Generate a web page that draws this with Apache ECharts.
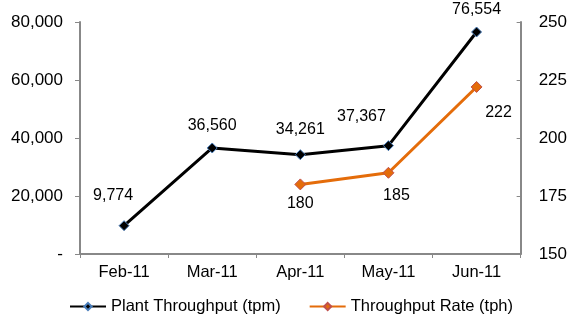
<!DOCTYPE html>
<html><head><meta charset="utf-8">
<script src="https://cdn.jsdelivr.net/npm/echarts@6/dist/echarts.min.js"></script>
<style>html,body{margin:0;padding:0;background:#fff}#c{width:570px;height:318px}</style>
</head><body><div id="c"></div>
<script>
var categories = ['Feb-11', 'Mar-11', 'Apr-11', 'May-11', 'Jun-11'];
var plantThroughput = [9774, 36560, 34261, 37367, 76554];
var throughputRate = [null, null, 180, 185, 222];
var leftTicks = [0, 20000, 40000, 60000, 80000];
var rightTicks = [150, 175, 200, 225, 250];

var font = 'Liberation Sans, Arial, sans-serif';
var chart = echarts.init(document.getElementById('c'));
function fmt(v){ return v === 0 ? '-' : v.toLocaleString('en-US'); }

var blackOffsets = [[-11,-8],[0,0],[0,-3],[-27,-7],[0,0]];
var orangeOffsets = [[0,0],[0,0],[0,-4],[8,0],[22,3]];

chart.setOption({
  animation: false,
  grid: { left: 80, right: 48, top: 22, bottom: 64 },
  legend: {
    bottom: -2, left: 64, itemGap: 28, itemWidth: 36, itemHeight: 9,
    textStyle: { fontFamily: font, fontSize: 16.5, color: '#000' },
    data: ['Plant Throughput (tpm)', 'Throughput Rate (tph)']
  },
  xAxis: {
    type: 'category', data: categories, boundaryGap: true,
    axisLine: { lineStyle: { color: '#888', width: 2 } },
    axisTick: { show: true, inside: false, length: 4, lineStyle: { color: '#888' } },
    axisLabel: { fontFamily: font, fontSize: 16.5, color: '#000', margin: 10 }
  },
  yAxis: [{
    type: 'value', min: leftTicks[0], max: leftTicks[leftTicks.length-1], interval: leftTicks[1]-leftTicks[0],
    splitLine: { show: false },
    axisLine: { show: true, lineStyle: { color: '#888', width: 2 } },
    axisTick: { show: true, length: 5, lineStyle: { color: '#888' } },
    axisLabel: { fontFamily: font, fontSize: 17, color: '#000', margin: 17, formatter: fmt }
  }, {
    type: 'value', min: rightTicks[0], max: rightTicks[rightTicks.length-1], interval: rightTicks[1]-rightTicks[0],
    splitLine: { show: false },
    axisLine: { show: true, lineStyle: { color: '#888', width: 2 } },
    axisTick: { show: true, inside: true, length: 4, lineStyle: { color: '#888' } },
    axisLabel: { fontFamily: font, fontSize: 17, color: '#000', margin: 18 }
  }],
  series: [{
    name: 'Plant Throughput (tpm)', type: 'line', yAxisIndex: 0,
    data: plantThroughput.map(function(v,i){ return { value: v, label: { offset: blackOffsets[i] } }; }),
    lineStyle: { color: '#000', width: 3 },
    itemStyle: { color: '#000', borderColor: '#4a7ebb', borderWidth: 1 },
    symbol: 'diamond', symbolSize: 10,
    label: { show: true, position: 'top', distance: 9, fontFamily: font, fontSize: 16, color: '#000',
      formatter: function(p){ return fmt(p.value); } }
  }, {
    name: 'Throughput Rate (tph)', type: 'line', yAxisIndex: 1,
    data: throughputRate.map(function(v,i){ return { value: v, label: { offset: orangeOffsets[i] } }; }),
    lineStyle: { color: '#E46C0A', width: 3 },
    itemStyle: { color: '#E46C0A', borderColor: '#C0504D', borderWidth: 1 },
    symbol: 'diamond', symbolSize: 11,
    label: { show: true, position: 'bottom', distance: 9, fontFamily: font, fontSize: 16, color: '#000' }
  }]
});
</script></body></html>
